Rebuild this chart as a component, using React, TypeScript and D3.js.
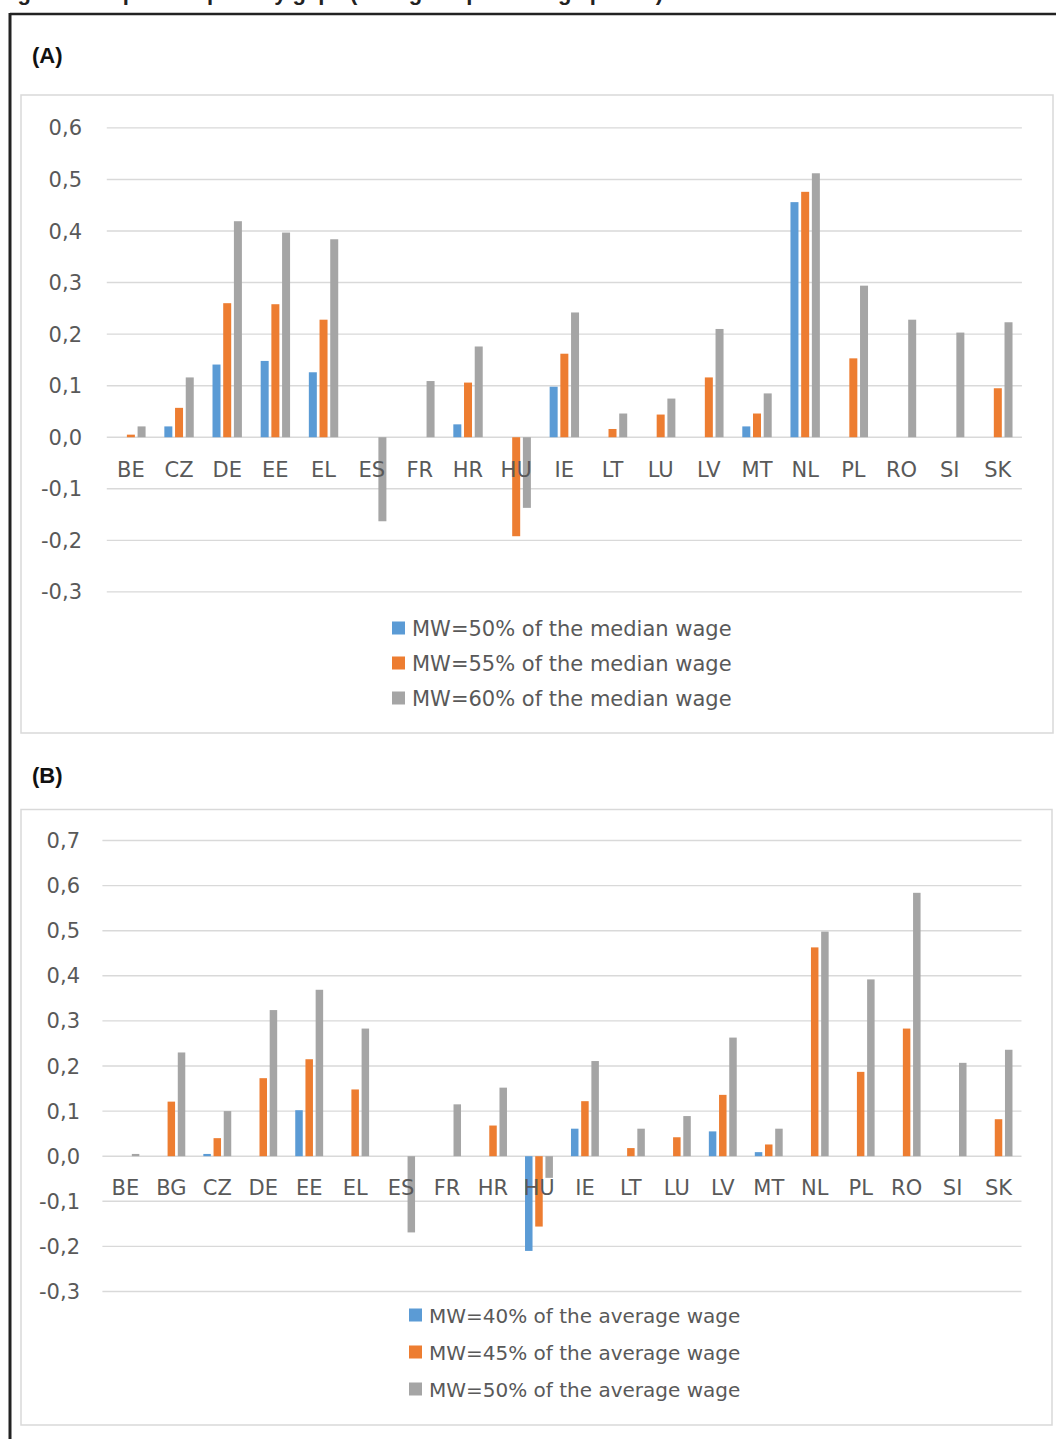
import React from "react";
import * as d3 from "d3";

// ---------- Panel A data ----------
const categoriesA = ["BE","CZ","DE","EE","EL","ES","FR","HR","HU","IE","LT","LU","LV","MT","NL","PL","RO","SI","SK"];
const seriesNamesA = ["MW=50% of the median wage","MW=55% of the median wage","MW=60% of the median wage"];
const mw50Median = [0, 0.021, 0.141, 0.148, 0.126, 0, 0, 0.025, 0, 0.098, 0, 0, 0, 0.021, 0.456, 0, 0, 0, 0];
const mw55Median = [0.005, 0.057, 0.260, 0.258, 0.228, 0, 0, 0.106, -0.192, 0.162, 0.016, 0.044, 0.116, 0.046, 0.476, 0.153, 0, 0, 0.095];
const mw60Median = [0.021, 0.116, 0.419, 0.397, 0.384, -0.163, 0.109, 0.176, -0.137, 0.242, 0.046, 0.075, 0.21, 0.085, 0.512, 0.294, 0.228, 0.203, 0.223];
const ticksA = [0.6, 0.5, 0.4, 0.3, 0.2, 0.1, 0, -0.1, -0.2, -0.3];

// ---------- Panel B data ----------
const categoriesB = ["BE","BG","CZ","DE","EE","EL","ES","FR","HR","HU","IE","LT","LU","LV","MT","NL","PL","RO","SI","SK"];
const seriesNamesB = ["MW=40% of the average wage","MW=45% of the average wage","MW=50% of the average wage"];
const mw40Average = [0, 0, 0.005, 0, 0.102, 0, 0, 0, 0, -0.21, 0.061, 0, 0, 0.055, 0.009, 0, 0, 0, 0, 0];
const mw45Average = [0, 0.121, 0.04, 0.173, 0.215, 0.148, 0, 0, 0.068, -0.156, 0.122, 0.018, 0.042, 0.136, 0.026, 0.463, 0.187, 0.283, 0, 0.082];
const mw50Average = [0.005, 0.23, 0.1, 0.324, 0.369, 0.283, -0.169, 0.115, 0.152, -0.048, 0.211, 0.061, 0.089, 0.263, 0.061, 0.498, 0.392, 0.584, 0.207, 0.236];
const ticksB = [0.7, 0.6, 0.5, 0.4, 0.3, 0.2, 0.1, 0, -0.1, -0.2, -0.3];

const colors = ["#5b9bd5", "#ed7d31", "#a5a5a5"];
const FONT = "'DejaVu Sans', sans-serif";
const TXT = "#595959";
const GRID = "#d9d9d9";

const fmt = (v: number) => d3.format(".1f")(v).replace(".", ",").replace("−", "-");

type PanelProps = {
  label: string;
  labelY: number;
  box: [number, number, number, number];
  categories: string[];
  series: number[][];
  names: string[];
  ticks: number[];
  xRange: [number, number];
  yDomain: [number, number];
  yRange: [number, number];
  tickRight: number;
  catBaseline: number;
  barStep: number;
  barWidth: number;
  legendX: number;
  legendRows: number[];
  legendFont: number;
  legendSq: number;
};

function Panel(p: PanelProps) {
  const x = d3.scaleBand<string>().domain(p.categories).range(p.xRange).paddingInner(0).paddingOuter(0);
  const y = d3.scaleLinear().domain(p.yDomain).range(p.yRange);
  const L = 2 * p.barStep + p.barWidth;
  const x1 = d3.scaleBand<number>().domain([0, 1, 2]).range([-L / 2, L / 2]).paddingInner(1 - p.barWidth / p.barStep).paddingOuter(0);
  const [bx, by, bw, bh] = p.box;
  return (
    <g>
      <text x={32} y={p.labelY} fontFamily="'Liberation Sans', Arial, sans-serif" fontWeight="bold" fontSize={22} fill="#111">{p.label}</text>
      <rect x={bx} y={by} width={bw} height={bh} fill="#fff" stroke={GRID} strokeWidth={1.5} />
      {p.ticks.map((t) => (
        <g key={"t" + t}>
          <line x1={p.xRange[0]} x2={p.xRange[1]} y1={y(t)} y2={y(t)} stroke={GRID} strokeWidth={1.4} />
          <text x={p.tickRight} y={y(t) + 7.5} textAnchor="end" fontFamily={FONT} fontSize={21} fill={TXT}>{fmt(t)}</text>
        </g>
      ))}
      {p.series.map((vals, si) => (
        <g key={"s" + si} fill={colors[si]}>
          {vals.map((v, i) => {
            if (!v) return null;
            const cx = (x(p.categories[i]) as number) + x.bandwidth() / 2;
            const bx0 = cx + (x1(si) as number);
            const y0 = y(0);
            const yv = y(v);
            return <rect key={i} x={bx0} width={x1.bandwidth()} y={Math.min(y0, yv)} height={Math.abs(yv - y0)} />;
          })}
        </g>
      ))}
      {p.categories.map((c) => (
        <text key={"c" + c} x={(x(c) as number) + x.bandwidth() / 2} y={p.catBaseline} textAnchor="middle" fontFamily={FONT} fontSize={21} fill={TXT}>{c}</text>
      ))}
      {p.names.map((n, i) => (
        <g key={"l" + i}>
          <rect x={p.legendX} y={p.legendRows[i] - p.legendSq / 2} width={p.legendSq} height={p.legendSq} fill={colors[i]} />
          <text x={p.legendX + p.legendSq + 7} y={p.legendRows[i] + 7.5} fontFamily={FONT} fontSize={p.legendFont} fill={TXT}>{n}</text>
        </g>
      ))}
    </g>
  );
}

export default function App() {
  return (
    <svg width={1056} height={1439} viewBox="0 0 1056 1439" style={{ position: "absolute", left: 0, top: 0, display: "block", background: "#fff" }}>
      <rect x={0} y={0} width={1056} height={1439} fill="#fff" />
      <text x={-2} y={0} fontFamily="'Liberation Sans', Arial, sans-serif" fontWeight="bold" fontSize={22} fill="#222">Figure 6: Impact on poverty gaps (change in percentage points)</text>
      <line x1={10} x2={1056} y1={14} y2={14} stroke="#222" strokeWidth={2.5} />
      <line x1={10} x2={10} y1={13} y2={1439} stroke="#222" strokeWidth={3} />
      <Panel
        label="(A)" labelY={63}
        box={[21, 95, 1032, 638]}
        categories={categoriesA}
        series={[mw50Median, mw55Median, mw60Median]}
        names={seriesNamesA}
        ticks={ticksA}
        xRange={[106.8, 1021.9]}
        yDomain={[-0.3, 0.6]}
        yRange={[591.9, 127.9]}
        tickRight={82}
        catBaseline={477}
        barStep={10.7}
        barWidth={8}
        legendX={392}
        legendRows={[628, 663, 698]}
        legendFont={21}
        legendSq={13}
      />
      <Panel
        label="(B)" labelY={783}
        box={[21, 809.5, 1031, 615.5]}
        categories={categoriesB}
        series={[mw40Average, mw45Average, mw50Average]}
        names={seriesNamesB}
        ticks={ticksB}
        xRange={[102.4, 1021.5]}
        yDomain={[-0.3, 0.7]}
        yRange={[1291.5, 840.5]}
        tickRight={80}
        catBaseline={1195}
        barStep={10.2}
        barWidth={7.5}
        legendX={409}
        legendRows={[1315, 1352, 1389]}
        legendFont={20}
        legendSq={13}
      />
    </svg>
  );
}
